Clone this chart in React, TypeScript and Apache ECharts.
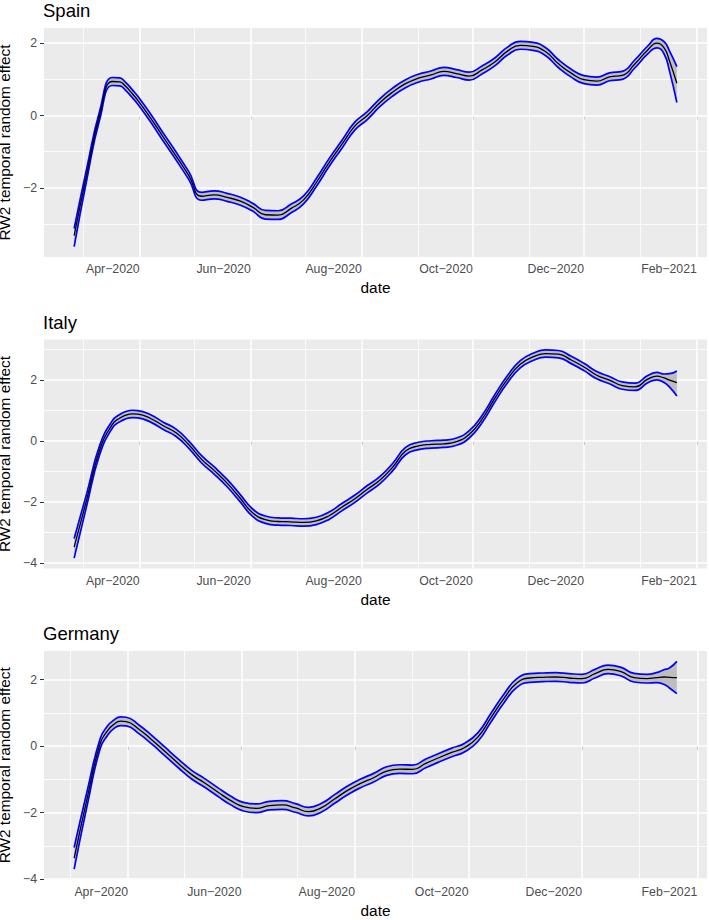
import React, { useEffect, useRef } from "react";
import * as echarts from "echarts";

// ---------------- data ----------------
const dates = [
  "2020-02-25", "2020-03-03", "2020-03-10", "2020-03-17", "2020-03-21", "2020-03-24", "2020-03-28", "2020-03-31",
  "2020-04-07", "2020-04-14", "2020-04-21", "2020-04-28", "2020-05-05", "2020-05-12", "2020-05-19", "2020-05-26",
  "2020-06-02", "2020-06-09", "2020-06-16", "2020-06-23", "2020-06-30", "2020-07-07", "2020-07-14", "2020-07-21",
  "2020-07-28", "2020-08-04", "2020-08-11", "2020-08-18", "2020-08-25", "2020-09-01", "2020-09-08", "2020-09-15",
  "2020-09-22", "2020-09-29", "2020-10-06", "2020-10-13", "2020-10-20", "2020-10-27", "2020-11-03", "2020-11-10",
  "2020-11-17", "2020-11-24", "2020-12-01", "2020-12-08", "2020-12-15", "2020-12-22", "2020-12-29", "2021-01-05",
  "2021-01-10", "2021-01-14", "2021-01-17", "2021-01-21",
];
const germanyDates = dates.slice(1);

const spainMean = [
  -3.32, -1.6, 0.0, 0.94, 0.93, 0.82, 0.6, 0.42, -0.07, -0.6, -1.12, -1.66, -2.23, -2.19, -2.26, -2.36,
  -2.53, -2.74, -2.75, -2.57, -2.33, -1.85, -1.3, -0.8, -0.3, 0.0, 0.36, 0.65, 0.88, 1.03, 1.12, 1.22,
  1.16, 1.09, 1.26, 1.48, 1.78, 1.94, 1.91, 1.76, 1.43, 1.17, 0.99, 0.95, 1.07, 1.11, 1.43, 1.81,
  2.0, 1.87, 1.5, 0.89,
];
const spainLower = [
  -3.62, -1.76, -0.12, 0.83, 0.82, 0.71, 0.49, 0.31, -0.18, -0.71, -1.23, -1.77, -2.34, -2.3, -2.37, -2.47,
  -2.64, -2.86, -2.87, -2.69, -2.44, -1.96, -1.41, -0.91, -0.41, -0.11, 0.25, 0.54, 0.77, 0.92, 1.01, 1.11,
  1.05, 0.98, 1.15, 1.37, 1.67, 1.83, 1.8, 1.65, 1.32, 1.06, 0.88, 0.84, 0.96, 1.0, 1.32, 1.7,
  1.87, 1.7, 1.22, 0.36,
];
const spainUpper = [
  -3.12, -1.44, 0.12, 1.05, 1.04, 0.93, 0.71, 0.53, 0.04, -0.49, -1.01, -1.55, -2.12, -2.08, -2.15, -2.25,
  -2.42, -2.62, -2.63, -2.45, -2.22, -1.74, -1.19, -0.69, -0.19, 0.11, 0.47, 0.76, 0.99, 1.14, 1.23, 1.33,
  1.27, 1.2, 1.37, 1.59, 1.89, 2.05, 2.02, 1.87, 1.54, 1.28, 1.1, 1.06, 1.18, 1.22, 1.54, 1.92,
  2.13, 2.04, 1.78, 1.35,
];

const italyMean = [
  -3.48, -1.9, -0.3, 0.55, 0.75, 0.84, 0.89, 0.88, 0.74, 0.5, 0.27, -0.12, -0.6, -0.97, -1.38, -1.86,
  -2.35, -2.58, -2.64, -2.65, -2.67, -2.62, -2.45, -2.17, -1.9, -1.58, -1.28, -0.85, -0.33, -0.16, -0.11, -0.09,
  -0.02, 0.22, 0.72, 1.4, 2.03, 2.52, 2.76, 2.87, 2.85, 2.66, 2.43, 2.16, 2.0, 1.82, 1.78, 2.03,
  2.13, 2.07, 2.0, 1.92,
];
const italyLower = [
  -3.84, -2.1, -0.45, 0.43, 0.63, 0.72, 0.77, 0.76, 0.62, 0.38, 0.15, -0.24, -0.72, -1.09, -1.5, -1.98,
  -2.47, -2.7, -2.76, -2.77, -2.79, -2.74, -2.57, -2.29, -2.02, -1.7, -1.4, -0.97, -0.45, -0.28, -0.23, -0.21,
  -0.14, 0.1, 0.6, 1.28, 1.91, 2.4, 2.64, 2.75, 2.73, 2.54, 2.31, 2.04, 1.88, 1.7, 1.66, 1.91,
  2.01, 1.92, 1.77, 1.48,
];
const italyUpper = [
  -3.2, -1.7, -0.15, 0.67, 0.87, 0.96, 1.01, 1.0, 0.86, 0.62, 0.39, 0.0, -0.48, -0.85, -1.26, -1.74,
  -2.23, -2.46, -2.52, -2.53, -2.55, -2.5, -2.33, -2.05, -1.78, -1.46, -1.16, -0.73, -0.21, -0.04, 0.01, 0.03,
  0.1, 0.34, 0.84, 1.52, 2.15, 2.64, 2.88, 2.99, 2.97, 2.78, 2.55, 2.28, 2.12, 1.94, 1.9, 2.15,
  2.25, 2.2, 2.21, 2.3,
];

const germanyMean = [
  -3.37, -1.57, 0.08, 0.47, 0.64, 0.75, 0.74, 0.5, 0.18, -0.17, -0.52, -0.85, -1.1, -1.37, -1.63, -1.82,
  -1.87, -1.79, -1.77, -1.86, -1.97, -1.85, -1.59, -1.33, -1.12, -0.95, -0.75, -0.69, -0.7, -0.52, -0.35, -0.19,
  -0.04, 0.27, 0.85, 1.43, 1.9, 2.05, 2.07, 2.08, 2.05, 2.03, 2.18, 2.31, 2.24, 2.06, 2.03, 2.06,
  2.08, 2.07, 2.06,
];
const germanyLower = [
  -3.7, -1.79, -0.07, 0.33, 0.51, 0.62, 0.61, 0.37, 0.05, -0.3, -0.65, -0.98, -1.23, -1.5, -1.76, -1.95,
  -2.0, -1.92, -1.9, -1.99, -2.1, -1.98, -1.72, -1.46, -1.25, -1.08, -0.88, -0.82, -0.83, -0.65, -0.48, -0.32,
  -0.17, 0.14, 0.72, 1.3, 1.77, 1.92, 1.94, 1.95, 1.92, 1.9, 2.05, 2.18, 2.11, 1.93, 1.9, 1.91,
  1.86, 1.75, 1.58,
];
const germanyUpper = [
  -3.05, -1.35, 0.23, 0.61, 0.77, 0.88, 0.87, 0.63, 0.31, -0.04, -0.39, -0.72, -0.97, -1.24, -1.5, -1.69,
  -1.74, -1.66, -1.64, -1.73, -1.84, -1.72, -1.46, -1.2, -0.99, -0.82, -0.62, -0.56, -0.57, -0.39, -0.22, -0.06,
  0.09, 0.4, 0.98, 1.56, 2.03, 2.18, 2.2, 2.21, 2.18, 2.16, 2.31, 2.44, 2.37, 2.19, 2.16, 2.21,
  2.3, 2.35, 2.55,
];

const countries = ["Spain", "Italy", "Germany"];
const xTickDates = ["2020-04-01", "2020-06-01", "2020-08-01", "2020-10-01", "2020-12-01", "2021-02-01"];
const xTickLabels = ["Apr\u22122020", "Jun\u22122020", "Aug\u22122020", "Oct\u22122020", "Dec\u22122020", "Feb\u22122021"];
const xMinorDates = ["2020-03-01", "2020-05-01", "2020-07-01", "2020-09-01", "2020-11-01", "2021-01-01"];
const spainYTicks = [-2, 0, 2];
const spainYMinor = [-3, -1, 1];
const italyYTicks = [-4, -2, 0, 2];
const italyYMinor = [-3, -1, 1, 3];
const germanyYTicks = [-4, -2, 0, 2];
const germanyYMinor = [-3, -1, 1];

// ---------------- helpers ----------------
const FONT = "'Liberation Sans', Arial, Helvetica, sans-serif";
const ts = (s: string) => {
  const [y, m, d] = s.split("-").map(Number);
  return Date.UTC(y, m - 1, d);
};
const minusFmt = (v: number) => (v < 0 ? "\u2212" + Math.abs(v) : String(v));

function buildOption() {
  const panels = [
    { name: countries[0], dates, mean: spainMean, lower: spainLower, upper: spainUpper, yTicks: spainYTicks, yMinor: spainYMinor, top: 28, height: 229 },
    { name: countries[1], dates, mean: italyMean, lower: italyLower, upper: italyUpper, yTicks: italyYTicks, yMinor: italyYMinor, top: 339.5, height: 229 },
    { name: countries[2], dates: germanyDates, mean: germanyMean, lower: germanyLower, upper: germanyUpper, yTicks: germanyYTicks, yMinor: germanyYMinor, top: 651, height: 228.5 },
  ];
  const xTickVals = xTickDates.map(ts);
  const xMinorVals = xMinorDates.map(ts);

  const grid: any[] = [];
  const xAxis: any[] = [];
  const yAxis: any[] = [];
  const series: any[] = [];
  const title: any[] = [];

  panels.forEach((p, i) => {
    const t = p.dates.map(ts);
    const x0 = t[0];
    const x1 = t[t.length - 1];
    const xs = x1 - x0;
    const xmin = x0 - 0.05 * xs;
    const xmax = x1 + 0.05 * xs;
    const lo = Math.min(...p.lower);
    const hi = Math.max(...p.upper);
    const ys = hi - lo;
    const ymin = lo - 0.05 * ys;
    const ymax = hi + 0.05 * ys;

    grid.push({
      left: 44,
      width: 663,
      top: p.top,
      height: p.height,
      show: true,
      backgroundColor: "#ebebeb",
      borderWidth: 0,
      containLabel: false,
      outerBoundsMode: "none",
    });

    title.push({
      text: p.name,
      left: 43,
      top: p.top - 27,
      padding: 0,
      textStyle: { fontSize: 18.5, fontWeight: "normal", color: "#000000", fontFamily: FONT },
    });

    xAxis.push({
      type: "value",
      gridIndex: i,
      min: xmin,
      max: xmax,
      axisLine: { show: false },
      splitLine: { show: false },
      axisTick: { show: true, length: 4, lineStyle: { color: "#333333", width: 1 }, customValues: xTickVals },
      axisLabel: {
        customValues: xTickVals,
        formatter: (v: number) => {
          const k = xTickVals.indexOf(+v);
          return k >= 0 ? xTickLabels[k] : "";
        },
        color: "#4d4d4d",
        fontSize: 12.3,
        fontFamily: FONT,
        align: "right",
        margin: 6,
        hideOverlap: false,
      },
      name: "date",
      nameLocation: "middle",
      nameGap: 23,
      nameTextStyle: { fontSize: 15.4, color: "#000000", fontFamily: FONT },
    });

    yAxis.push({
      type: "value",
      gridIndex: i,
      min: ymin,
      max: ymax,
      axisLine: { show: false },
      splitLine: { show: false },
      axisTick: { show: true, length: 4, lineStyle: { color: "#333333", width: 1 }, customValues: p.yTicks },
      axisLabel: {
        customValues: p.yTicks,
        formatter: (v: number) => minusFmt(v),
        color: "#4d4d4d",
        fontSize: 12.3,
        fontFamily: FONT,
        margin: 7,
      },
      name: "RW2 temporal random effect",
      nameLocation: "middle",
      nameRotate: 90,
      nameGap: 24,
      nameTextStyle: { fontSize: 15.4, color: "#000000", fontFamily: FONT, lineHeight: 16 },
    });

    const major = { color: "#ffffff", width: 1.5, type: "solid" };
    const minor = { color: "#ffffff", width: 0.8, type: "solid" };
    const gridLines: any[] = [];
    xMinorVals.forEach((v) => { if (v > xmin && v < xmax) gridLines.push({ xAxis: v, lineStyle: minor }); });
    p.yMinor.forEach((v) => { if (v > ymin && v < ymax) gridLines.push({ yAxis: v, lineStyle: minor }); });
    xTickVals.forEach((v) => { if (v > xmin && v < xmax) gridLines.push({ xAxis: v, lineStyle: major }); });
    p.yTicks.forEach((v) => { if (v >= ymin && v <= ymax) gridLines.push({ yAxis: v, lineStyle: major }); });

    // y value placed in the first column so that stacking applies to y (x is a value axis)
    const stackId = "band" + i;
    series.push({
      type: "line",
      name: p.name + " lower",
      xAxisIndex: i,
      yAxisIndex: i,
      data: t.map((x, k) => [p.lower[k], x]),
      encode: { x: 1, y: 0 },
      stack: stackId,
      stackStrategy: "all",
      symbol: "none",
      showSymbol: false,
      smooth: 0.5,
      lineStyle: { color: "#0000ff", width: 1.7 },
      z: 3,
      silent: true,
      markLine: {
        silent: true,
        symbol: ["none", "none"],
        label: { show: false },
        emphasis: { disabled: true },
        z: 1,
        animation: false,
        data: gridLines,
      },
    });
    series.push({
      type: "line",
      name: p.name + " band",
      xAxisIndex: i,
      yAxisIndex: i,
      data: t.map((x, k) => [p.upper[k] - p.lower[k], x]),
      encode: { x: 1, y: 0 },
      stack: stackId,
      stackStrategy: "all",
      symbol: "none",
      showSymbol: false,
      smooth: 0.5,
      lineStyle: { color: "#0000ff", width: 1.7 },
      areaStyle: { color: "#bebebe", opacity: 1 },
      z: 2,
      silent: true,
    });
    series.push({
      type: "line",
      name: p.name + " mean",
      xAxisIndex: i,
      yAxisIndex: i,
      data: t.map((x, k) => [x, p.mean[k]]),
      symbol: "none",
      showSymbol: false,
      smooth: 0.5,
      lineStyle: { color: "#000000", width: 1.3 },
      z: 4,
      silent: true,
    });
  });

  return {
    animation: false,
    backgroundColor: "#ffffff",
    textStyle: { fontFamily: FONT },
    title,
    grid,
    xAxis,
    yAxis,
    series,
  };
}

export default function App() {
  const ref = useRef<HTMLDivElement>(null);
  useEffect(() => {
    if (!ref.current) return;
    const chart = echarts.init(ref.current, undefined, { renderer: "svg" });
    chart.setOption(buildOption() as any);
    return () => chart.dispose();
  }, []);
  return (
    <div
      ref={ref}
      style={{ position: "absolute", left: 0, top: 0, width: 709, height: 920 }}
    />
  );
}
